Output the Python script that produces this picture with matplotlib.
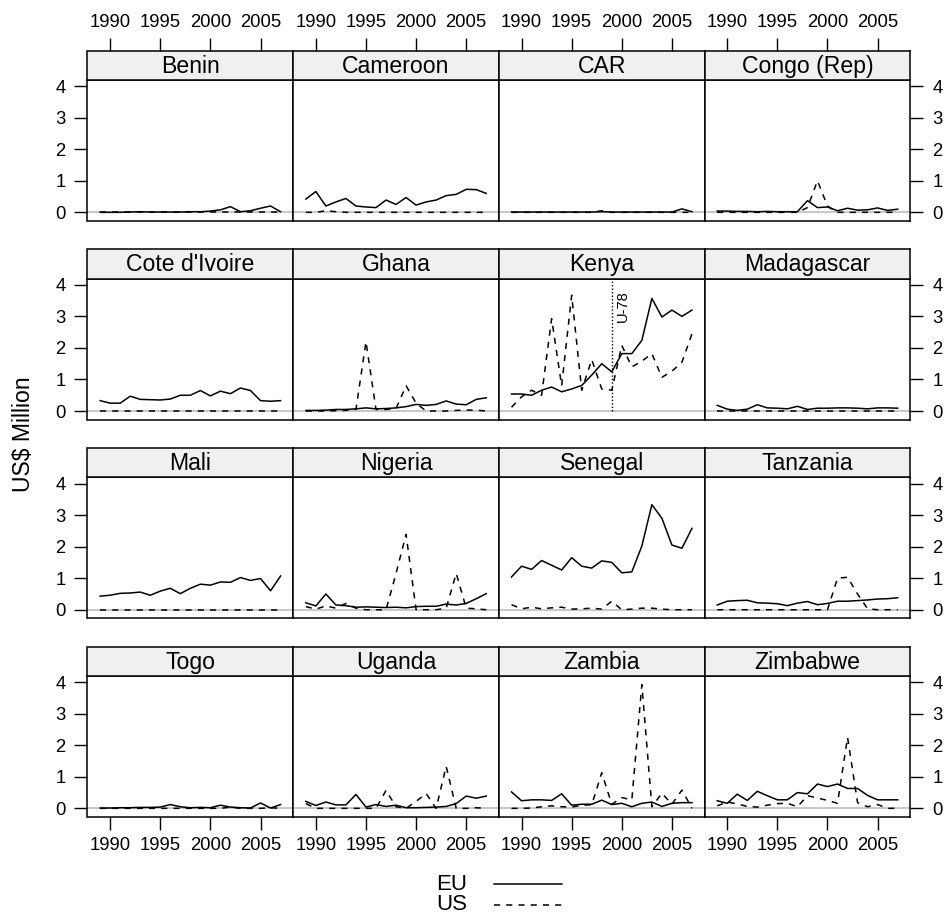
import numpy as np
import matplotlib
matplotlib.use("Agg")
import matplotlib.pyplot as plt
from matplotlib.lines import Line2D

plt.rcParams['font.family'] = ['Liberation Sans', 'DejaVu Sans']

years = list(range(1989, 2008))
countries = ["Benin", "Cameroon", "CAR", "Congo (Rep)",
             "Cote d'Ivoire", "Ghana", "Kenya", "Madagascar",
             "Mali", "Nigeria", "Senegal", "Tanzania",
             "Togo", "Uganda", "Zambia", "Zimbabwe"]
xticks = [1990, 1995, 2000, 2005]
yticks = [0, 1, 2, 3, 4]
series_names = ["EU", "US"]

eu_benin = [0.0, 0.0, 0.0, 0.01, 0.02, 0.01, 0.01, 0.01, 0.01, 0.02, 0.02, 0.04, 0.08, 0.18, 0.02, 0.05, 0.13, 0.2, 0.02]
us_benin = [0.0] * 19
eu_cameroon = [0.42, 0.66, 0.2, 0.33, 0.44, 0.2, 0.17, 0.15, 0.39, 0.25, 0.47, 0.23, 0.33, 0.39, 0.53, 0.57, 0.73, 0.72, 0.6]
us_cameroon = [0.0, 0.0, 0.05, 0.02, 0.0, 0.0, 0.0, 0.0, 0.0, 0.0, 0.0, 0.0, 0.0, 0.0, 0.0, 0.0, 0.0, 0.0, 0.0]
eu_car = [0.01, 0.01, 0.01, 0.01, 0.01, 0.01, 0.01, 0.01, 0.01, 0.02, 0.01, 0.01, 0.01, 0.01, 0.01, 0.01, 0.01, 0.11, 0.02]
us_car = [0.0, 0.0, 0.0, 0.0, 0.0, 0.0, 0.0, 0.0, 0.0, 0.05, 0.0, 0.0, 0.0, 0.0, 0.0, 0.0, 0.0, 0.0, 0.0]
eu_congo = [0.04, 0.04, 0.03, 0.03, 0.02, 0.03, 0.02, 0.02, 0.02, 0.37, 0.15, 0.17, 0.05, 0.13, 0.07, 0.08, 0.14, 0.06, 0.1]
us_congo = [0.0, 0.0, 0.0, 0.0, 0.0, 0.0, 0.0, 0.0, 0.0, 0.15, 1.0, 0.2, 0.0, 0.0, 0.0, 0.0, 0.0, 0.0, 0.0]
eu_cote = [0.33, 0.25, 0.25, 0.47, 0.37, 0.36, 0.35, 0.38, 0.5, 0.5, 0.65, 0.48, 0.63, 0.55, 0.73, 0.65, 0.33, 0.31, 0.33]
us_cote = [0.0] * 19
eu_ghana = [0.02, 0.02, 0.03, 0.05, 0.05, 0.07, 0.1, 0.07, 0.08, 0.1, 0.14, 0.21, 0.18, 0.21, 0.32, 0.22, 0.2, 0.37, 0.42]
us_ghana = [0.0, 0.0, 0.0, 0.01, 0.02, 0.05, 2.2, 0.05, 0.05, 0.08, 0.8, 0.25, 0.0, 0.0, 0.0, 0.02, 0.03, 0.03, 0.0]
eu_kenya = [0.54, 0.54, 0.5, 0.66, 0.76, 0.61, 0.7, 0.81, 1.14, 1.5, 1.24, 1.82, 1.82, 2.24, 3.57, 2.98, 3.2, 3.0, 3.2]
us_kenya = [0.12, 0.45, 0.66, 0.5, 2.93, 0.8, 3.67, 0.66, 1.63, 0.7, 0.66, 2.08, 1.4, 1.58, 1.82, 1.07, 1.26, 1.55, 2.45]
eu_madagascar = [0.18, 0.06, 0.02, 0.06, 0.2, 0.1, 0.09, 0.07, 0.15, 0.05, 0.09, 0.09, 0.1, 0.1, 0.09, 0.07, 0.1, 0.1, 0.09]
us_madagascar = [0.0] * 19
eu_mali = [0.43, 0.46, 0.52, 0.53, 0.56, 0.46, 0.59, 0.68, 0.51, 0.68, 0.81, 0.78, 0.88, 0.87, 1.02, 0.93, 0.99, 0.6, 1.07]
us_mali = [0.0] * 19
eu_nigeria = [0.22, 0.12, 0.5, 0.15, 0.13, 0.08, 0.09, 0.08, 0.07, 0.08, 0.06, 0.1, 0.11, 0.11, 0.18, 0.15, 0.2, 0.35, 0.51]
us_nigeria = [0.1, 0.02, 0.12, 0.05, 0.2, 0.05, 0.0, 0.0, 0.0, 1.15, 2.39, 0.0, 0.0, 0.0, 0.05, 1.15, 0.05, 0.03, 0.0]
eu_senegal = [1.04, 1.38, 1.28, 1.56, 1.41, 1.26, 1.65, 1.38, 1.32, 1.55, 1.5, 1.17, 1.2, 2.02, 3.33, 2.9, 2.05, 1.95, 2.58]
us_senegal = [0.16, 0.03, 0.08, 0.03, 0.06, 0.08, 0.02, 0.03, 0.05, 0.02, 0.27, 0.0, 0.02, 0.05, 0.05, 0.02, 0.0, 0.0, 0.0]
eu_tanzania = [0.15, 0.27, 0.29, 0.3, 0.22, 0.21, 0.19, 0.13, 0.21, 0.26, 0.16, 0.2, 0.27, 0.27, 0.29, 0.31, 0.34, 0.35, 0.38]
us_tanzania = [0.0, 0.0, 0.0, 0.0, 0.0, 0.0, 0.0, 0.0, 0.0, 0.0, 0.0, 0.0, 1.0, 1.03, 0.5, 0.03, 0.0, 0.0, 0.0]
eu_togo = [0.01, 0.01, 0.02, 0.02, 0.03, 0.03, 0.04, 0.12, 0.05, 0.02, 0.03, 0.02, 0.1, 0.04, 0.02, 0.01, 0.17, 0.01, 0.12]
us_togo = [0.0, 0.0, 0.0, 0.0, 0.0, 0.0, 0.0, 0.0, 0.0, 0.0, 0.0, 0.0, 0.0, 0.04, 0.0, 0.0, 0.0, 0.02, 0.0]
eu_uganda = [0.22, 0.09, 0.2, 0.11, 0.11, 0.44, 0.04, 0.12, 0.06, 0.1, 0.02, 0.02, 0.03, 0.04, 0.06, 0.15, 0.39, 0.32, 0.39]
us_uganda = [0.15, 0.0, 0.0, 0.0, 0.0, 0.0, 0.0, 0.0, 0.57, 0.05, 0.0, 0.22, 0.47, 0.0, 1.33, 0.0, 0.0, 0.02, 0.0]
eu_zambia = [0.52, 0.24, 0.27, 0.27, 0.25, 0.46, 0.1, 0.13, 0.13, 0.26, 0.12, 0.16, 0.05, 0.16, 0.2, 0.06, 0.16, 0.18, 0.18]
us_zambia = [0.0, 0.0, 0.01, 0.05, 0.08, 0.05, 0.04, 0.1, 0.11, 1.13, 0.13, 0.34, 0.27, 3.92, 0.05, 0.48, 0.13, 0.58, 0.0]
eu_zimbabwe = [0.24, 0.16, 0.45, 0.25, 0.54, 0.4, 0.27, 0.27, 0.5, 0.46, 0.77, 0.69, 0.77, 0.63, 0.63, 0.41, 0.27, 0.27, 0.27]
us_zimbabwe = [0.08, 0.2, 0.14, 0.06, 0.04, 0.1, 0.15, 0.16, 0.05, 0.4, 0.33, 0.25, 0.16, 2.25, 0.18, 0.05, 0.12, 0.0, 0.0]

eu = [eu_benin, eu_cameroon, eu_car, eu_congo, eu_cote, eu_ghana, eu_kenya, eu_madagascar,
      eu_mali, eu_nigeria, eu_senegal, eu_tanzania, eu_togo, eu_uganda, eu_zambia, eu_zimbabwe]
us = [us_benin, us_cameroon, us_car, us_congo, us_cote, us_ghana, us_kenya, us_madagascar,
      us_mali, us_nigeria, us_senegal, us_tanzania, us_togo, us_uganda, us_zambia, us_zimbabwe]

# annotation in Kenya panel
event_year = 1999
event_label = "U-78"

# ---- scales (lattice style: extend range by 7%) ----
allv = np.concatenate([np.array(eu).ravel(), np.array(us).ravel()])
ylo, yhi = allv.min(), allv.max()
ypad = 0.07 * (yhi - ylo)
ylim = (ylo - ypad, yhi + ypad)
xpad = 0.07 * (years[-1] - years[0])
xlim = (years[0] - xpad, years[-1] + xpad)

W, H = 945, 919
fig = plt.figure(figsize=(W / 100, H / 100), dpi=100)

left0 = 87.5
pw = 205.7
ph = 141.0
sh = 29.5
bottoms = [221.0, 419.7, 618.4, 817.0]

tick_len = 9.4
lw_frame = 1.1
main_fs = 16.6
tick_fs = 13.3

for idx, name in enumerate(countries):
    r, c = divmod(idx, 4)
    x0 = left0 + c * pw
    yb = bottoms[r]
    ax = fig.add_axes([x0 / W, 1 - yb / H, pw / W, ph / H])
    sax = fig.add_axes([x0 / W, 1 - (yb - ph) / H, pw / W, sh / H])

    ax.axhline(0, color='#c4c4c4', lw=1.3, zorder=1)
    ax.plot(years, eu[idx], color='black', lw=1.1, zorder=3)
    ax.plot(years, us[idx], color='black', lw=1.1, ls=(0, (4, 4)), zorder=3)
    ax.set_xlim(*xlim)
    ax.set_ylim(*ylim)
    for sp in ax.spines.values():
        sp.set_linewidth(lw_frame)

    ax.set_xticks(xticks)
    ax.set_yticks(yticks)
    ax.tick_params(axis='both', direction='out', length=tick_len, width=1.0,
                   labelsize=tick_fs, left=False, bottom=False, labelleft=False,
                   labelbottom=False, right=False, top=False)
    if c == 0:
        ax.tick_params(axis='y', left=True, labelleft=True, pad=6.5)
    if c == 3:
        ax.tick_params(axis='y', right=True, labelright=True, pad=6.5)
    if r == 3:
        ax.tick_params(axis='x', bottom=True, labelbottom=True, pad=5.3)

    # strip
    sax.set_facecolor('#f0f0f0')
    sax.set_xlim(*xlim)
    sax.set_ylim(0, 1)
    sax.set_yticks([])
    for sp in sax.spines.values():
        sp.set_linewidth(lw_frame)
    sax.text(0.5, 0.47, name, transform=sax.transAxes, ha='center', va='center',
             fontsize=main_fs)
    if r == 0:
        sax.set_xticks(xticks)
        sax.tick_params(axis='x', direction='out', length=tick_len, width=1.0,
                        labelsize=tick_fs, bottom=False, labelbottom=False,
                        top=True, labeltop=True, pad=4.3)
    else:
        sax.set_xticks([])

    if name == "Kenya":
        ax.plot([event_year, event_year], [0, ylim[1]], color='black', lw=1.0,
                ls=(0, (1, 1.5)), zorder=2)
        ax.text(event_year + 1.1, 3.32, event_label, rotation=90, ha='center',
                va='center', fontsize=10.5)

# y label
fig.text(24 / W, 1 - 434 / H, "US$ Million", rotation=90, ha='center', va='center',
         fontsize=main_fs)

# legend (key)
ls_list = ['-', (0, (4, 4))]
key_y = [884, 905]
for name, ls, yy in zip(series_names, ls_list, key_y):
    fig.text(467 / W, 1 - yy / H, name, ha='right', va='center', fontsize=main_fs - 0.6)
    fig.add_artist(Line2D([494 / W, 562 / W], [1 - yy / H, 1 - yy / H],
                          transform=fig.transFigure, color='black', lw=1.1, ls=ls))

fig.savefig("out.png", dpi=100)
